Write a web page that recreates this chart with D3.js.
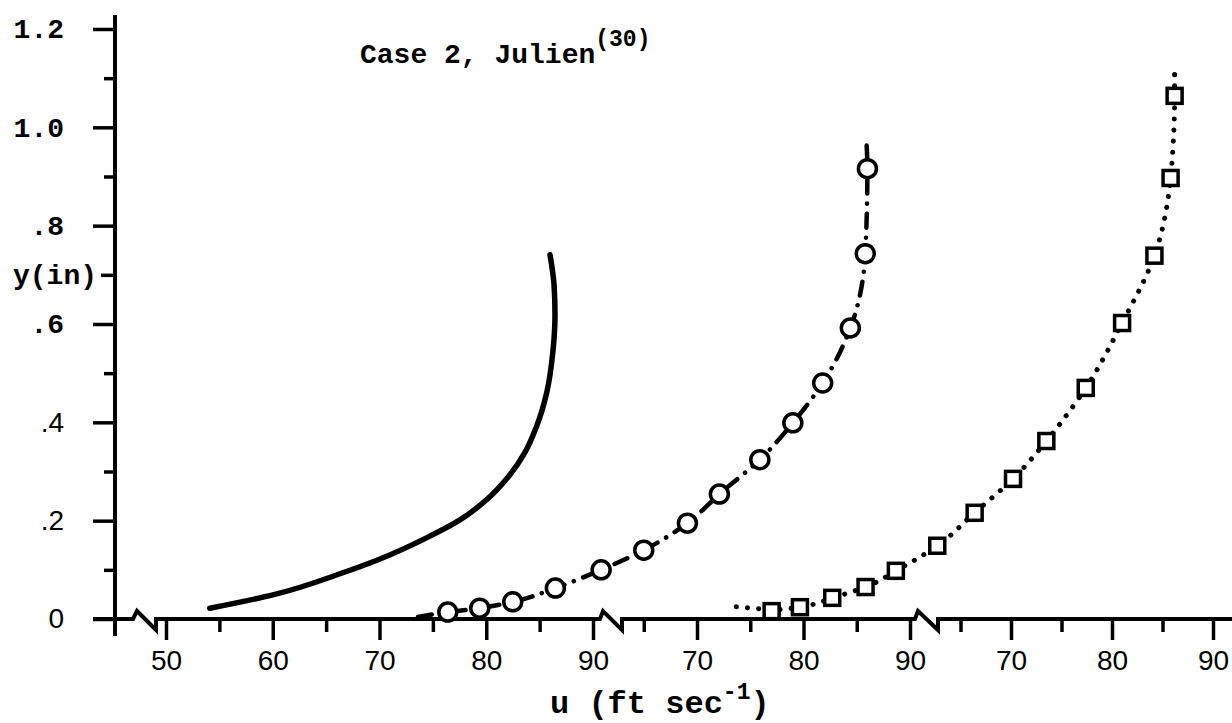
<!DOCTYPE html>
<html>
<head>
<meta charset="utf-8">
<script src="https://cdn.jsdelivr.net/npm/d3@7"></script>
<style>
  body { margin: 0; background: #fff; }
  svg { display: block; }
</style>
</head>
<body>
<svg id="chart" width="1232" height="723"></svg>
<script>
// solid curve, read against the first axis segment (50..90)
const solidU = [54.1, 60.0, 66.3, 70.05, 74.4, 77.5, 80.0, 82.2, 83.6, 84.7, 85.66, 86.23, 86.44, 86.35, 85.97];
const solidY = [0.022, 0.049, 0.092, 0.122, 0.165, 0.201, 0.242, 0.293, 0.338, 0.391, 0.460, 0.541, 0.619, 0.680, 0.741];

// circles, read against the second axis segment (70..90)
const circU = [46.6, 49.6, 52.7, 56.7, 61.0, 65.0, 69.1, 72.1, 75.9, 79.0, 81.8, 84.4, 85.8, 86.0];
const circY = [0.014, 0.022, 0.035, 0.063, 0.100, 0.140, 0.195, 0.254, 0.324, 0.399, 0.480, 0.592, 0.743, 0.916];
const circLineStart = [43.8, 0.004];
const circLineEnd = [85.9, 0.975];

// squares, read against the third axis segment (70..90)
const sqU = [46.3, 49.1, 52.3, 55.6, 58.6, 62.7, 66.4, 70.2, 73.5, 77.4, 81.0, 84.2, 85.8, 86.2];
const sqY = [0.016, 0.024, 0.043, 0.065, 0.098, 0.149, 0.216, 0.285, 0.362, 0.470, 0.602, 0.739, 0.897, 1.064];
const sqLineStart = [42.8, 0.025];
const sqLineEnd = [86.2, 1.121];

// axis ticks
const yMajor = [0, 0.2, 0.4, 0.6, 0.8, 1.0, 1.2];
const yMajorText = ["0", ".2", ".4", ".6", ".8", "1.0", "1.2"];
const yMinor = [0.1, 0.3, 0.5, 0.9, 1.1];
const segMajor = [[50, 60, 70, 80, 90], [70, 80, 90], [70, 80, 90]];
const segMinor = [[55, 65, 75, 85], [65, 75, 85], [65, 75, 85]];

const mono = "'Liberation Mono', 'DejaVu Sans Mono', monospace";
const sans = "'Liberation Sans', Arial, sans-serif";

const svg = d3.select("#chart");
const y = d3.scaleLinear().domain([0, 1.2]).range([619, 29]);
const xs = [
  d3.scaleLinear().domain([50, 90]).range([166, 593]),
  d3.scaleLinear().domain([70, 90]).range([697, 910]),
  d3.scaleLinear().domain([70, 90]).range([1011, 1213])
];

// x axis line with the three breaks
svg.append("path")
  .attr("d", "M93,619 H133 L137,611 L156,630 V619 H600 L603,611 L622,630 V619 H915 L918,611 L938,630 V619 H1232")
  .attr("fill", "none").attr("stroke", "#000").attr("stroke-width", 4)
  .attr("stroke-linejoin", "miter");

// y axis line
svg.append("line")
  .attr("x1", 115).attr("x2", 115).attr("y1", 15).attr("y2", 636)
  .attr("stroke", "#000").attr("stroke-width", 4);

function styleAxis(g) {
  g.select(".domain").remove();
  g.selectAll(".tick line").attr("stroke", "#000").attr("stroke-width", 3.5);
  g.selectAll(".tick text").attr("fill", "#000");
}

// x axes, one per segment
xs.forEach((sc, i) => {
  svg.append("g")
    .attr("transform", "translate(0,619)")
    .call(d3.axisBottom(sc).tickValues(segMajor[i]).tickSize(21).tickPadding(10).tickFormat(d3.format("d")))
    .call(styleAxis)
    .selectAll("text")
    .attr("font-family", sans).attr("font-size", 28);
  svg.append("g")
    .attr("transform", "translate(0,619)")
    .call(d3.axisBottom(sc).tickValues(segMinor[i]).tickSize(13).tickFormat(""))
    .call(styleAxis);
});

// y axis
svg.append("g")
  .attr("transform", "translate(115,0)")
  .call(d3.axisLeft(y).tickValues(yMajor).tickSize(22).tickPadding(29)
    .tickFormat((d, i) => yMajorText[i]))
  .call(styleAxis)
  .selectAll("text")
  .attr("font-family", d => d <= 0.4 ? sans : mono)
  .attr("font-weight", d => d <= 0.4 ? "normal" : "bold")
  .attr("font-size", 28);

svg.append("g")
  .attr("transform", "translate(115,0)")
  .call(d3.axisLeft(y).tickValues(yMinor).tickSize(11).tickFormat(""))
  .call(styleAxis);

svg.append("g")
  .attr("transform", "translate(115,0)")
  .call(d3.axisLeft(y).tickValues([0.7]).tickSize(14).tickPadding(4).tickFormat(() => "y(in)"))
  .call(styleAxis)
  .selectAll("text")
  .attr("font-family", mono).attr("font-weight", "bold").attr("font-size", 28);

// curves
const solidPts = solidU.map((u, i) => [u, solidY[i]]);
const circPts = [circLineStart, ...circU.map((u, i) => [u, circY[i]]), circLineEnd];
const sqPts = [sqLineStart, ...sqU.map((u, i) => [u, sqY[i]]), sqLineEnd];

const lineFor = sc => d3.line()
  .x(d => sc(d[0])).y(d => y(d[1]))
  .curve(d3.curveMonotoneY);

svg.append("path")
  .datum(solidPts)
  .attr("d", lineFor(xs[0]))
  .attr("fill", "none").attr("stroke", "#000").attr("stroke-width", 5.5)
  .attr("stroke-linecap", "round");

svg.append("path")
  .datum(circPts)
  .attr("d", lineFor(xs[1]))
  .attr("fill", "none").attr("stroke", "#000").attr("stroke-width", 4.5)
  .attr("stroke-linecap", "round")
  .attr("stroke-dasharray", "14,10,0.1,10");

svg.append("path")
  .datum(sqPts)
  .attr("d", lineFor(xs[2]))
  .attr("fill", "none").attr("stroke", "#000").attr("stroke-width", 5)
  .attr("stroke-linecap", "round")
  .attr("stroke-dasharray", "0.1,11");

// markers
svg.append("g").selectAll("circle")
  .data(circU.map((u, i) => [u, circY[i]]))
  .join("circle")
  .attr("cx", d => xs[1](d[0])).attr("cy", d => y(d[1]))
  .attr("r", 9)
  .attr("fill", "#fff").attr("stroke", "#000").attr("stroke-width", 3.5);

svg.append("g").selectAll("rect")
  .data(sqU.map((u, i) => [u, sqY[i]]))
  .join("rect")
  .attr("x", d => xs[2](d[0]) - 7.5).attr("y", d => y(d[1]) - 7.5)
  .attr("width", 15).attr("height", 15)
  .attr("fill", "#fff").attr("stroke", "#000").attr("stroke-width", 3.5);

// titles
const title = svg.append("text")
  .attr("x", 360).attr("y", 63)
  .attr("font-family", mono).attr("font-weight", "bold").attr("font-size", 28).attr("fill", "#000");
title.append("tspan").text("Case 2, Julien");
title.append("tspan").attr("dy", -17).attr("font-size", 23).text("(30)");

const xt = svg.append("text")
  .attr("x", 550).attr("y", 713)
  .attr("font-family", mono).attr("font-weight", "bold").attr("font-size", 32).attr("fill", "#000");
xt.append("tspan").text("u (ft sec");
xt.append("tspan").attr("dy", -14).attr("font-size", 23).text("-1");
xt.append("tspan").attr("dy", 14).text(")");
</script>
</body>
</html>
